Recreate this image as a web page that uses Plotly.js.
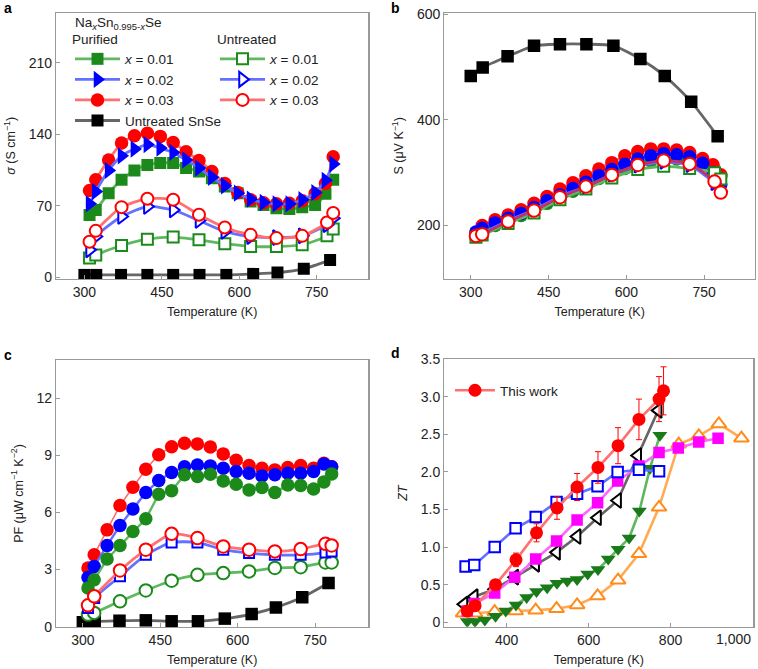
<!DOCTYPE html>
<html><head><meta charset="utf-8">
<script src="https://cdn.plot.ly/plotly-3.0.1.min.js"></script>
<style>html,body{margin:0;padding:0;background:#fff}</style>
</head><body><div id="chart" style="width:758px;height:669px"></div>
<script>
// ---------- data ----------
const T_pur = [310, 322, 347, 372, 397, 422, 447, 472, 497, 522, 547, 572, 597, 622, 647, 672, 697, 722, 747, 767, 782];
const T_unt = [310, 322, 372, 422, 472, 522, 572, 622, 672, 722, 770, 782];
const T_snse = [300, 323, 371, 422, 472, 523, 575, 627, 674, 725, 776];

// panel a: electrical conductivity (S/cm)
const sig_pur_001 = [61, 66, 82.5, 95.5, 104.7, 110, 112, 112, 107, 103.7, 97, 89, 82.5, 74.3, 71, 67.8, 66.9, 68.8, 71, 81.8, 95.5];
const sig_pur_002 = [72, 84, 104.7, 119, 125.6, 130, 126.6, 122.3, 115, 107, 98, 89.7, 82.5, 76.6, 73.3, 72, 72, 76, 83, 95, 111];
const sig_pur_003 = [85, 95.5, 115, 131.5, 138.6, 141, 138, 132, 123, 114.5, 103.7, 92, 83, 76, 73, 72, 72.5, 75, 82, 92, 118];
const sig_unt_001 = [19, 22, 31.3, 37.5, 39.5, 36.8, 33, 30.3, 30.3, 32, 40.7, 47.3];
const sig_unt_002 = [27, 40, 59.6, 69.4, 66, 55.7, 45, 40, 39, 40.7, 51.5, 58];
const sig_unt_003 = [35, 45.6, 68.8, 77, 76, 61.3, 48.9, 41.7, 38.5, 40.7, 53.8, 63];
const sig_snse = [2.5, 2.5, 2.5, 2.5, 2.5, 2.5, 2.5, 3.5, 4.8, 8.5, 17];

// panel b: Seebeck coefficient (uV/K)
const S_pur_001 = [182, 190, 200, 210, 219, 230, 242, 254, 265, 277, 289, 299, 308, 316, 322, 326, 326, 322, 316, 311, 293];
const S_pur_002 = [188, 195, 205, 214, 223, 234, 247, 258, 270, 282, 294, 306, 316, 326, 332, 336, 334, 330, 318, 300, 277];
const S_pur_003 = [186, 200, 211, 220, 230, 242, 255, 269, 281, 294, 307, 319, 332, 340, 345, 345, 343, 338, 327, 315, 296];
const S_unt_001 = [178, 182, 204, 224, 249, 269, 290, 306, 312, 308, 300, 288];
const S_unt_002 = [183, 186, 209, 230, 255, 274, 296, 313, 320, 314, 280, 265];
const S_unt_003 = [180.5, 183.7, 207.6, 228.4, 253.7, 273.7, 295.8, 314.7, 322.9, 316.6, 283.2, 262.4];
const S_snse = [483, 499, 520, 540, 543, 543, 540, 515, 483, 434, 369];

// panel c: power factor (uW cm-1 K-2)
const PF_pur_001 = [2.03, 2.46, 3.55, 4.26, 5.0, 5.66, 6.95, 7.14, 7.97, 7.88, 8.0, 7.65, 7.48, 7.18, 7.30, 7.04, 7.44, 7.41, 7.23, 7.6, 8.02];
const PF_pur_002 = [2.58, 3.16, 4.26, 5.31, 6.18, 7.04, 7.67, 8.09, 8.40, 8.49, 8.44, 8.32, 8.14, 8.05, 7.91, 7.97, 8.05, 8.05, 8.14, 8.54, 8.40];
const PF_pur_003 = [3.08, 3.77, 5.08, 6.36, 7.32, 8.26, 9.03, 9.45, 9.63, 9.59, 9.43, 9.07, 8.74, 8.46, 8.32, 8.23, 8.35, 8.46, 8.32, 8.58, 8.40];
const PF_unt_001 = [0.63, 0.72, 1.33, 1.90, 2.41, 2.72, 2.81, 2.90, 3.08, 3.12, 3.37, 3.37];
const PF_unt_002 = [0.98, 1.50, 2.64, 3.77, 4.42, 4.42, 4.04, 3.86, 3.77, 3.77, 3.89, 3.95];
const PF_unt_003 = [1.12, 1.59, 2.95, 4.04, 4.87, 4.65, 4.21, 4.04, 3.95, 4.07, 4.35, 4.26];
const PF_snse = [0.23, 0.28, 0.31, 0.33, 0.28, 0.28, 0.42, 0.66, 1.01, 1.54, 2.29];

// panel d: ZT
const T_this = [304, 323, 373, 423, 473, 523, 572, 623, 672, 723, 772, 783];
const ZT_this = [0.15, 0.22, 0.50, 0.83, 1.19, 1.52, 1.80, 2.06, 2.35, 2.70, 2.97, 3.08];
const ZT_this_err = [0.03, 0.03, 0.05, 0.09, 0.12, 0.15, 0.18, 0.21, 0.24, 0.27, 0.30, 0.32];
const T_refBlue = [300, 321, 371, 422, 471, 522, 572, 622, 671, 723, 772];
const ZT_refBlue = [0.74, 0.76, 1.0, 1.25, 1.40, 1.60, 1.71, 1.81, 2.0, 2.03, 2.01];
const T_refMag = [304, 323, 371, 420, 471, 522, 572, 622, 671, 723, 772, 819, 869, 916];
const ZT_refMag = [0.15, 0.25, 0.39, 0.60, 0.84, 1.08, 1.36, 1.59, 1.88, 2.08, 2.26, 2.32, 2.40, 2.45];
const T_refBlack = [296, 321, 371, 420, 471, 522, 572, 622, 671, 720, 770];
const ZT_refBlack = [0.24, 0.34, 0.44, 0.60, 0.77, 0.93, 1.14, 1.39, 1.62, 2.22, 2.82];
const T_refGreen = [304, 323, 347, 373, 398, 423, 449, 473, 499, 523, 548, 572, 598, 623, 648, 672, 699, 724, 750, 774];
const ZT_refGreen = [0.01, 0.01, 0.03, 0.08, 0.15, 0.23, 0.33, 0.41, 0.46, 0.52, 0.55, 0.57, 0.64, 0.70, 0.84, 0.97, 1.12, 1.48, 2.05, 2.49];
const T_refOrange = [294, 323, 371, 422, 471, 522, 572, 622, 672, 723, 772, 820, 869, 918, 973];
const ZT_refOrange = [0.12, 0.12, 0.14, 0.15, 0.16, 0.18, 0.23, 0.35, 0.56, 0.91, 1.53, 2.37, 2.48, 2.64, 2.45];

const legendNames = ["<i>x</i> = 0.01", "<i>x</i> = 0.02", "<i>x</i> = 0.03", "Untreated SnSe"];
const ticksA_y = [0, 70, 140, 210];
const ticksT = [300, 450, 600, 750];
const ticksB_y = [200, 400, 600];
const ticksC_y = [0, 3, 6, 9, 12];
const ticksD_x = [400, 600, 800, 1000];
const ticksD_xText = ["400", "600", "800", ""];
const lastTickD = {value: 1000, text: "1,000"};
const ticksD_y = [0, 0.5, 1.0, 1.5, 2.0, 2.5, 3.0, 3.5];
const ticksD_yText = ["0", "0.5", "1.0", "1.5", "2.0", "2.5", "3.0", "3.5"];

// ---------- styles ----------
const GREEN = '#1b8a1b', GREENL = '#5fb85f';
const BLUE = '#0000ff', BLUEL = '#6470ff';
const RED = '#ff0000', REDL = '#ff7070';
const BLACK = '#000000', BLACKL = '#666666';
const MAG = '#ff00ff', MAGL = '#ff66ff';
const ORA = '#ff8c1a', ORAL = '#ffaa55';

function filled(x, y, xa, ya, color, lcolor, symbol, size, opts) {
  return Object.assign({
    x, y, xaxis: xa, yaxis: ya, type: 'scatter', mode: 'lines+markers',
    line: {color: lcolor, width: 2.8, shape: 'spline', smoothing: 0.6},
    marker: {color: color, symbol: symbol, size: size, line: {width: 0}},
    showlegend: false, hoverinfo: 'skip'
  }, opts || {});
}
function open(x, y, xa, ya, color, lcolor, symbol, size, opts) {
  return Object.assign({
    x, y, xaxis: xa, yaxis: ya, type: 'scatter', mode: 'lines+markers',
    line: {color: lcolor, width: 2.8, shape: 'spline', smoothing: 0.6},
    marker: {color: '#ffffff', symbol: symbol, size: size, line: {width: 2, color: color}},
    showlegend: false, hoverinfo: 'skip'
  }, opts || {});
}

const traces = [];
// panel a
traces.push(filled(T_snse, sig_snse, 'x', 'y', BLACK, BLACKL, 'square', 12, {showlegend: true, name: legendNames[3], legendrank: 4}));
traces.push(open(T_unt, sig_unt_001, 'x', 'y', GREEN, GREENL, 'square', 11, {showlegend: true, legend: 'legend2', name: legendNames[0]}));
traces.push(open(T_unt, sig_unt_002, 'x', 'y', BLUE, BLUEL, 'triangle-right', 13, {showlegend: true, legend: 'legend2', name: legendNames[1]}));
traces.push(open(T_unt, sig_unt_003, 'x', 'y', RED, REDL, 'circle', 12, {showlegend: true, legend: 'legend2', name: legendNames[2]}));
traces.push(filled(T_pur, sig_pur_001, 'x', 'y', GREEN, GREENL, 'square', 12, {showlegend: true, name: legendNames[0], legendrank: 1}));
traces.push(filled(T_pur, sig_pur_003, 'x', 'y', RED, REDL, 'circle', 13.5, {showlegend: true, name: legendNames[2], legendrank: 3}));
traces.push(filled(T_pur, sig_pur_002, 'x', 'y', BLUE, BLUEL, 'triangle-right', 15, {showlegend: true, name: legendNames[1], legendrank: 2}));

// panel b
traces.push(filled(T_snse, S_snse, 'x2', 'y2', BLACK, BLACKL, 'square', 12.5));
traces.push(filled(T_pur, S_pur_001, 'x2', 'y2', GREEN, GREENL, 'circle', 13.5));
traces.push(filled(T_pur, S_pur_003, 'x2', 'y2', RED, REDL, 'circle', 13.5));
traces.push(filled(T_pur, S_pur_002, 'x2', 'y2', BLUE, BLUEL, 'circle', 13.5));
traces.push(open(T_unt, S_unt_001, 'x2', 'y2', GREEN, GREENL, 'square', 11));
traces.push(open(T_unt, S_unt_002, 'x2', 'y2', BLUE, BLUEL, 'triangle-right', 12));
traces.push(open(T_unt, S_unt_003, 'x2', 'y2', RED, '#c0306a', 'circle', 12.5));

// panel c
traces.push(filled(T_snse, PF_snse, 'x3', 'y3', BLACK, BLACKL, 'square', 12.5));
traces.push(filled(T_pur, PF_pur_003, 'x3', 'y3', RED, REDL, 'circle', 13.5, {line: {color: REDL, width: 1.6}}));
traces.push(filled(T_pur, PF_pur_002, 'x3', 'y3', BLUE, BLUEL, 'circle', 13.5, {line: {color: BLUEL, width: 2.4}}));
traces.push(filled(T_pur, PF_pur_001, 'x3', 'y3', GREEN, GREENL, 'circle', 13.5, {line: {color: GREENL, width: 2.4}}));
traces.push(open(T_unt, PF_unt_001, 'x3', 'y3', GREEN, GREENL, 'circle', 12.5));
traces.push(open(T_unt, PF_unt_002, 'x3', 'y3', BLUE, BLUEL, 'square', 10));
traces.push(open(T_unt, PF_unt_003, 'x3', 'y3', RED, REDL, 'circle', 12.5));

// panel d
function lin(t) { t.line.shape = 'linear'; t.line.width = 2.6; return t; }
traces.push(lin(open(T_refOrange, ZT_refOrange, 'x4', 'y4', ORA, ORAL, 'triangle-up', 13)));
traces.push(lin(filled(T_refGreen, ZT_refGreen, 'x4', 'y4', '#1a7a1a', GREENL, 'triangle-down', 13)));
traces.push(lin(open(T_refBlack, ZT_refBlack, 'x4', 'y4', BLACK, BLACKL, 'triangle-left', 13)));
traces.push(lin(filled(T_refMag, ZT_refMag, 'x4', 'y4', MAG, MAGL, 'square', 11.5)));
traces.push(lin(open(T_refBlue, ZT_refBlue, 'x4', 'y4', BLUE, BLUEL, 'square', 10.5)));
const tw = lin(filled(T_this, ZT_this, 'x4', 'y4', RED, REDL, 'circle', 13));
tw.error_y = {type: 'data', array: ZT_this_err, visible: true, color: RED, thickness: 1, width: 3};
tw.showlegend = true; tw.legend = 'legend3'; tw.name = 'This work';
traces.push(tw);

// ---------- layout ----------
const FONT = 'Liberation Sans, Arial, Helvetica, sans-serif';
const W = 758, H = 669;
const px = v => v / W, py = v => 1 - v / H;
function xax(dom, range, tickvals, ticktext, anchor) {
  const a = {domain: dom, range: range, anchor: anchor, tickmode: 'array', tickvals: tickvals,
    ticks: 'inside', ticklen: 4, tickcolor: '#999', tickwidth: 1,
    showline: true, linecolor: '#999', linewidth: 1.2, mirror: true, showgrid: false, zeroline: false,
    tickfont: {family: FONT, size: 14, color: '#222'},
    title: {text: 'Temperature (K)', font: {family: FONT, size: 12.5, color: '#222'}, standoff: 8}};
  if (ticktext) a.ticktext = ticktext;
  return a;
}
function yax(dom, range, tickvals, ticktext, anchor, title) {
  const a = {domain: dom, range: range, anchor: anchor, tickmode: 'array', tickvals: tickvals,
    ticks: 'inside', ticklen: 4, tickcolor: '#999', tickwidth: 1,
    showline: true, linecolor: '#999', linewidth: 1.2, mirror: true, showgrid: false, zeroline: false,
    tickfont: {family: FONT, size: 14, color: '#222'},
    title: {text: title, font: {family: FONT, size: 12.5, color: '#222'}, standoff: 10}};
  if (ticktext) a.ticktext = ticktext;
  return a;
}
const domXL = [px(56), px(368.3)], domXR = [px(444.3), px(755)], domXR2 = [px(444.3), px(753.3)];
const domYT = [py(279), py(12.7)], domYB = [py(627), py(360)], domYB2 = [py(626.7), py(359.3)];
const LF = {family: FONT, size: 13.5, color: '#222'};

const layout = {
  width: W, height: H, margin: {l: 0, r: 0, t: 0, b: 0}, paper_bgcolor: '#fff', plot_bgcolor: '#fff',
  font: {family: FONT, size: 13, color: '#222'},
  xaxis: xax(domXL, [245, 850], ticksT, null, 'y'),
  yaxis: yax(domYT, [-1.5, 259], ticksA_y, null, 'x', '<i>σ</i> (S cm<sup>−1</sup>)'),
  xaxis2: xax(domXR, [249, 848], ticksT, null, 'y2'),
  yaxis2: yax(domYT, [99, 602.5], ticksB_y, null, 'x2', 'S (μV K<sup>−1</sup>)'),
  xaxis3: xax(domXL, [248, 853], ticksT, null, 'y3'),
  yaxis3: yax(domYB, [-0.02, 14], ticksC_y, null, 'x3', 'PF (μW cm<sup>−1</sup> K<sup>−2</sup>)'),
  xaxis4: xax(domXR2, [248, 1002], ticksD_x, ticksD_xText, 'y4'),
  yaxis4: yax(domYB2, [-0.06, 3.5], ticksD_y, ticksD_yText, 'x4', '<i>ZT</i>'),
  legend: {x: px(70), y: py(26), xanchor: 'left', yanchor: 'top', bgcolor: 'rgba(0,0,0,0)',
    font: LF, itemwidth: 45, traceorder: 'normal',
    title: {text: 'Purified', font: LF}},
  legend2: {x: px(215), y: py(26), xanchor: 'left', yanchor: 'top', bgcolor: 'rgba(0,0,0,0)',
    font: LF, itemwidth: 45, traceorder: 'normal',
    title: {text: 'Untreated', font: LF}},
  legend3: {x: px(450), y: py(375), xanchor: 'left', yanchor: 'top', bgcolor: 'rgba(0,0,0,0)',
    font: LF, itemwidth: 40},
  annotations: [
    {text: 'Na<sub><i>x</i></sub>Sn<sub>0.995-<i>x</i></sub>Se', x: px(73), y: py(24), xref: 'paper', yref: 'paper', xanchor: 'left', yanchor: 'middle', showarrow: false, font: LF},
    {text: lastTickD.text, x: lastTickD.value, xref: 'x4', y: py(639), yref: 'paper', xanchor: 'right', yanchor: 'middle', xshift: 1, showarrow: false, font: {family: FONT, size: 14, color: '#222'}},
    {text: '<b>a</b>', x: px(2), y: py(8), xref: 'paper', yref: 'paper', xanchor: 'left', yanchor: 'middle', showarrow: false, font: {family: FONT, size: 14, color: '#000'}},
    {text: '<b>b</b>', x: px(389), y: py(8), xref: 'paper', yref: 'paper', xanchor: 'left', yanchor: 'middle', showarrow: false, font: {family: FONT, size: 14, color: '#000'}},
    {text: '<b>c</b>', x: px(2), y: py(355), xref: 'paper', yref: 'paper', xanchor: 'left', yanchor: 'middle', showarrow: false, font: {family: FONT, size: 14, color: '#000'}},
    {text: '<b>d</b>', x: px(389), y: py(353), xref: 'paper', yref: 'paper', xanchor: 'left', yanchor: 'middle', showarrow: false, font: {family: FONT, size: 14, color: '#000'}}
  ]
};

Plotly.newPlot('chart', traces, layout, {staticPlot: true, displayModeBar: false});
</script></body></html>
